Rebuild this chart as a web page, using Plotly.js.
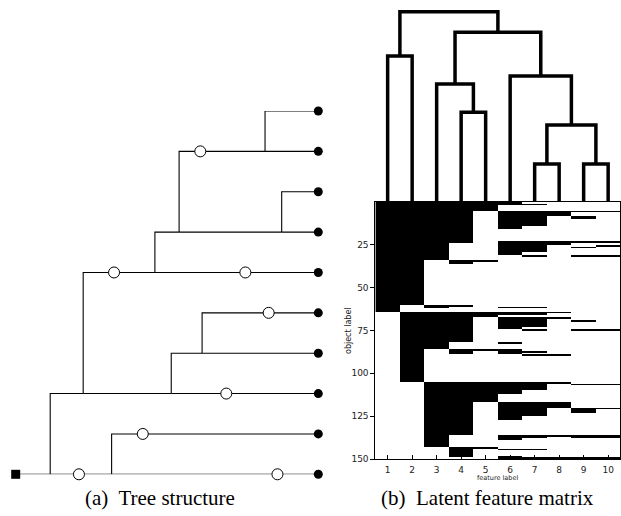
<!DOCTYPE html>
<html>
<head>
<meta charset="utf-8">
<script src="https://cdn.plot.ly/plotly-3.0.1.min.js"></script>
<style>html,body{margin:0;padding:0;background:#fff;}#chart{width:621px;height:516px;}</style>
</head>
<body>
<div id="chart"></div>
<script>
// ---------- (a) Tree structure ----------
const nodeNames   = ['root','A','B','C','C1','E','D','F','G','H','L1','L2','L3','L4','L5','L6','L7','L8','L9','L10'];
const nodeTimes   = [0, 0.114, 0.317, 0.223, 0.514, 0.616, 0.460, 0.540, 0.879, 0.824, 1,1,1,1,1,1,1,1,1,1];
const nodeRows    = [10, 10, 10, 8, 8, 7, 5, 4, 4, 2, 1,2,3,4,5,6,7,8,9,10];
const nodeParents = [null,'root','A','A','C','C1','C','D','F','F','H','H','G','G','D','E','E','C1','B','B'];
const mutTimes = [0.209, 0.420, 0.696, 0.836, 0.325, 0.759, 0.610, 0.865];
const mutRows  = [10, 9, 8, 6, 5, 5, 2, 10];

// ---------- (b) Latent feature matrix (black row runs per feature, [start,end)) ----------
const nObjects = 150;
const featureLabels = [1,2,3,4,5,6,7,8,9,10];
const feature1  = [[0,64]];
const feature2  = [[0,60],[64,105]];
const feature3  = [[0,34],[60,62],[64,86],[105,143]];
const feature4  = [[0,24],[34,36],[60,61],[64,82],[86,89],[105,136],[143,149]];
const feature5  = [[0,5],[34,35],[64,67],[86,87],[105,117],[143,144]];
const feature6  = [[0,2],[5,16],[23,31],[61,62],[64,66],[67,74],[82,83],[86,89],[105,112],[117,127],[136,139],[144,145],[148,150]];
const feature7  = [[1,2],[5,14],[23,29],[31,32],[61,62],[64,66],[67,73],[74,75],[87,88],[89,90],[105,110],[117,125],[136,138],[144,145],[149,150]];
const feature8  = [[5,8],[23,25],[64,65],[67,68],[89,90],[105,106],[117,120],[136,137],[149,150]];
const feature9  = [[5,6],[8,10],[23,24],[26,27],[31,32],[69,70],[74,75],[106,107],[120,123],[136,138],[149,150]];
const feature10 = [[5,6],[23,24],[25,26],[31,32],[74,75],[106,107],[120,121],[136,138],[149,150]];
const objectTicks = [25,50,75,100,125,150];

// ---------- dendrogram over features (linkage: left, right, height) ----------
const linkLeft   = [0, 3, 2, 6, 8, 13, 5, 12, 10];
const linkRight  = [1, 4, 11, 7, 9, 14, 15, 16, 17];
const linkHeight = [0.767, 0.471, 0.620, 0.200, 0.200, 0.405, 0.662, 0.892, 1.0];

// ===== build traces =====
const traces = [];

// Tree edges
const idx = {}; nodeNames.forEach((n,i)=>idx[n]=i);
const ex=[], ey=[];
nodeNames.forEach((n,i)=>{
  const p = nodeParents[i]; if(p===null) return;
  const j = idx[p];
  ex.push(nodeTimes[j], nodeTimes[j], nodeTimes[i], null);
  ey.push(nodeRows[j], nodeRows[i], nodeRows[i], null);
});
traces.push({type:'scatter',mode:'lines',x:ex,y:ey,xaxis:'x3',yaxis:'y3',
  line:{color:'#000',width:1.1},hoverinfo:'skip',cliponaxis:false});
traces.push({type:'scatter',mode:'markers',x:mutTimes,y:mutRows,xaxis:'x3',yaxis:'y3',
  marker:{symbol:'circle',size:11,color:'#fff',line:{color:'#000',width:1}},cliponaxis:false,hoverinfo:'skip'});
const leafT=[], leafR=[];
nodeNames.forEach((n,i)=>{ if(n[0]==='L'){leafT.push(nodeTimes[i]);leafR.push(nodeRows[i]);} });
traces.push({type:'scatter',mode:'markers',x:leafT,y:leafR,xaxis:'x3',yaxis:'y3',
  marker:{symbol:'circle',size:9,color:'#000'},cliponaxis:false,hoverinfo:'skip'});
traces.push({type:'scatter',mode:'markers',x:[nodeTimes[0]],y:[nodeRows[0]],xaxis:'x3',yaxis:'y3',
  marker:{symbol:'square',size:9,color:'#000'},cliponaxis:false,hoverinfo:'skip'});

// Heatmap matrix
const features = [feature1,feature2,feature3,feature4,feature5,feature6,feature7,feature8,feature9,feature10];
const z = [];
for(let r=0;r<nObjects;r++){ z.push(new Array(features.length).fill(0)); }
features.forEach((runs,c)=>runs.forEach(([s,e])=>{ for(let r=s;r<e;r++) z[r][c]=1; }));
const yc = []; for(let r=0;r<nObjects;r++) yc.push(r+0.5);
traces.push({type:'heatmap',z:z,x:featureLabels,y:yc,xaxis:'x',yaxis:'y',
  colorscale:[[0,'#ffffff'],[1,'#000000']],zmin:0,zmax:1,showscale:false,zsmooth:false,hoverinfo:'skip'});

// Dendrogram
const nLeaves = featureLabels.length;
const posX = featureLabels.slice(), posH = new Array(nLeaves).fill(0);
const dx=[], dy=[];
for(let k=0;k<linkLeft.length;k++){
  const a=linkLeft[k], b=linkRight[k], h=linkHeight[k];
  dx.push(posX[a],posX[a],posX[b],posX[b],null);
  dy.push(posH[a],h,h,posH[b],null);
  posX.push((posX[a]+posX[b])/2); posH.push(h);
}
traces.push({type:'scatter',mode:'lines',x:dx,y:dy,xaxis:'x2',yaxis:'y2',
  line:{color:'#000',width:3.5},hoverinfo:'skip',cliponaxis:false});

const W=621,H=516;
const tickFont = {family:'DejaVu Sans',size:9,color:'#222'};
const capFont = {family:'Liberation Serif',size:21,color:'#000'};
const layout = {
  width:W,height:H,margin:{l:0,r:0,t:0,b:0},paper_bgcolor:'#fff',plot_bgcolor:'rgba(0,0,0,0)',
  showlegend:false,
  xaxis:{domain:[375.4/W,620.4/W],range:[0.5,10.5],anchor:'y',tickvals:featureLabels,ticks:'inside',ticklen:4,
    tickcolor:'#000',showline:true,mirror:true,linecolor:'#000',linewidth:1,showgrid:false,zeroline:false,
    tickfont:tickFont,ticklabelstandoff:2,fixedrange:true},
  yaxis:{domain:[1-459/H,1-202/H],range:[150,0],anchor:'x',tickvals:objectTicks,ticks:'outside',ticklen:4,
    tickcolor:'#000',showline:true,mirror:true,linecolor:'#000',linewidth:1,showgrid:false,zeroline:false,
    tickfont:tickFont,fixedrange:true},
  xaxis2:{domain:[375.4/W,620.4/W],range:[0.5,10.5],anchor:'y2',visible:false,fixedrange:true},
  yaxis2:{domain:[1-202/H,1],range:[0,202/190.3],anchor:'x2',visible:false,fixedrange:true},
  xaxis3:{domain:[15.7/W,318.3/W],range:[0,1],anchor:'y3',visible:false,fixedrange:true},
  yaxis3:{domain:[1-474.3/H,1-111/H],range:[10,1],anchor:'x3',visible:false,fixedrange:true},
  annotations:[
    {text:'(a)  Tree structure',xref:'paper',yref:'paper',x:160/W,y:1-498/H,xanchor:'center',yanchor:'middle',
     showarrow:false,font:capFont},
    {text:'(b)  Latent feature matrix',xref:'paper',yref:'paper',x:487/W,y:1-498/H,xanchor:'center',yanchor:'middle',
     showarrow:false,font:capFont},
    {text:'object label',xref:'paper',yref:'paper',x:348/W,y:1-331/H,xanchor:'center',yanchor:'middle',
     showarrow:false,textangle:-90,font:{family:'DejaVu Sans',size:8,color:'#222'}},
    {text:'feature label',xref:'paper',yref:'paper',x:497.5/W,y:1-478/H,xanchor:'center',yanchor:'middle',
     showarrow:false,font:{family:'DejaVu Sans',size:6.5,color:'#222'}}
  ]
};
Plotly.newPlot('chart',traces,layout,{displayModeBar:false,staticPlot:true});
</script>
</body>
</html>
